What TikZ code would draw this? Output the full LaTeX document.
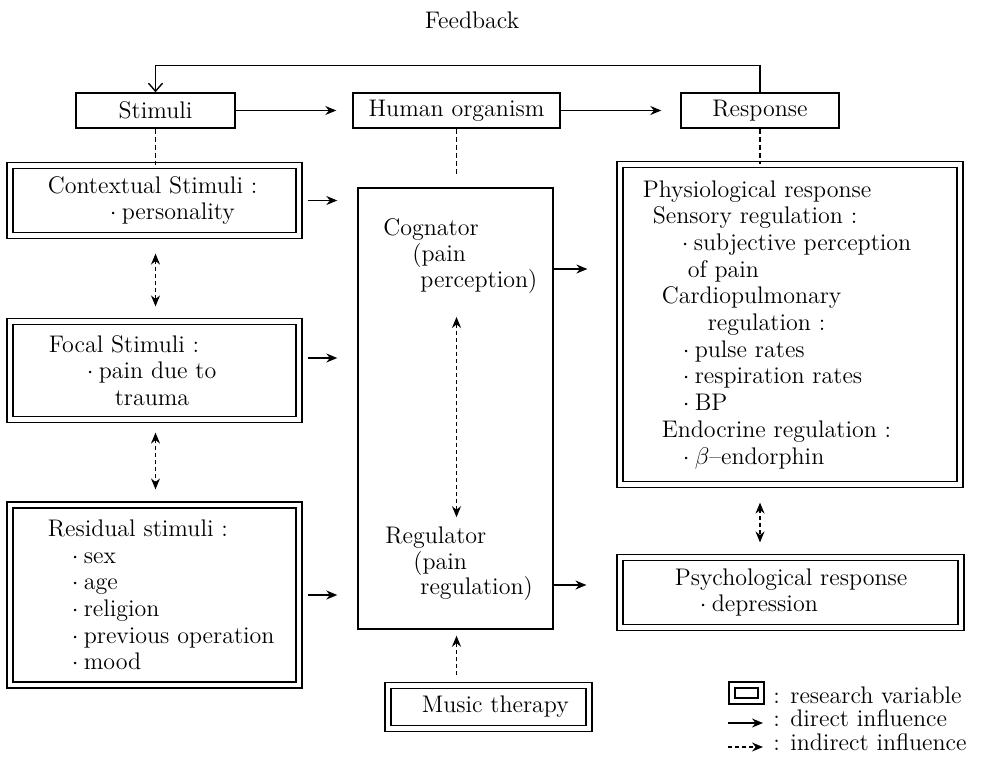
\documentclass[tikz,border=0pt]{standalone}
\usepackage{fontspec}
\usetikzlibrary{positioning,arrows.meta,calc}
\newcommand{\itm}{\makebox[6pt][l]{$\cdot$}}

\begin{document}
\begin{tikzpicture}[x=0.5pt,y=-0.5pt,
  >={Stealth[length=5.5pt,width=4.5pt]},
  every node/.style={font=\fontsize{12}{13.35}\selectfont},
  box/.style={draw,line width=0.7pt,minimum height=17.5pt,inner sep=0pt},
  varbox/.style={draw,line width=0.6pt,double,double distance=2.4pt,inner sep=0pt},
  txt/.style={inner sep=0pt,align=left},
  direct/.style={->,line width=0.7pt},
  indirect/.style={line width=0.7pt,dash pattern=on 2pt off 1.5pt},
  link/.style={line width=0.7pt,dash pattern=on 2.5pt off 1.5pt}]
  \useasboundingbox (0,0) rectangle (984,760);

  \node (fbtxt) at (472,20) {Feedback};
  \node[box,minimum width=79.5pt]  (stim) at (155.5,110.5) {Stimuli};
  \node[box,minimum width=103.5pt] (hum)  at (456.5,110.5) {Human organism};
  \node[box,minimum width=79pt]    (resp) at (760,110.5)   {Response};

  \node[varbox,minimum width=144.5pt,minimum height=35pt] (ctx) at (154.5,200.5) {};
  \node[varbox,minimum width=144.5pt,minimum height=49pt] (foc) at (154.5,370.5) {};
  \node[varbox,minimum width=144.5pt,minimum height=90pt] (res) at (154.5,595)   {};
  \node[draw,line width=0.7pt,minimum width=97.5pt,minimum height=220.5pt] (org) at (455.5,408.5) {};
  \node[varbox,minimum width=170pt,minimum height=160pt]  (phy) at (790,324.5)   {};
  \node[varbox,minimum width=170.5pt,minimum height=35pt] (psy) at (790.5,592.5) {};
  \node[varbox,minimum width=100.5pt,minimum height=21.5pt] (mus) at (488.5,707) {};

  \node[txt,right=19pt of ctx.west] (ctxt) {Contextual Stimuli :\\\hspace*{31pt}\itm personality};
  \node[txt,right=19.5pt of foc.west] (foct) {Focal Stimuli :\\\hspace*{19pt}\itm pain due to\\\hspace*{33pt}trauma};
  \node[txt,right=19pt of res.west] (rest) {Residual stimuli :\\\hspace*{12pt}\itm sex\\\hspace*{12pt}\itm age\\
    \hspace*{12pt}\itm religion\\\hspace*{12pt}\itm previous operation\\\hspace*{12pt}\itm mood};
  \node[txt,right=11.5pt of phy.west] (phyt) {Physiological response\\\hspace*{5pt}Sensory regulation :\\
    \hspace*{19.5pt}\itm subjective perception\\\hspace*{22.5pt}of pain\\\hspace*{9.5pt}Cardiopulmonary\\
    \hspace*{32.5pt}regulation :\\\hspace*{20pt}\itm pulse rates\\\hspace*{20pt}\itm respiration rates\\
    \hspace*{20pt}\itm BP\\\hspace*{9.5pt}Endocrine regulation :\\\hspace*{20pt}\itm $\beta$--endorphin};
  \node[txt,right=27.5pt of psy.west] (psyt) {Psychological response\\\hspace*{12.5pt}\itm depression};
  \node[txt,right=17pt of mus.west] (must) {Music therapy};
  \node[txt,anchor=west,font=\fontsize{12}{12.8}\selectfont] (cog) at (383,256)
    {Cognator\\\hspace*{14.5pt}(pain\\\hspace*{18.5pt}perception)};
  \node[txt,anchor=west,font=\fontsize{12}{12.8}\selectfont] (reg) at (385,564)
    {Regulator\\\hspace*{14pt}(pain\\\hspace*{17.5pt}regulation)};

  \draw[direct,shorten >=8pt] (stim) -- (hum);
  \draw[direct,shorten >=9.5pt] (hum) -- (resp);
  \draw[-{Straight Barb[length=4pt,width=7pt]},line width=0.7pt] (resp.north) -- ++(0,-27) -| (stim.north);

  \draw[link] (stim.south) -- (stim.south |- ctx.north);
  \draw[link,shorten >=5.5pt] (hum.south) -- (hum.south |- org.north);
  \draw[link] (resp.south) -- (resp.south |- phy.north);

  \draw[indirect,<->,shorten <=8.75pt,shorten >=7.25pt] (stim.south |- ctx.south) -- (stim.south |- foc.north);
  \draw[indirect,<->,shorten <=6.25pt,shorten >=7.5pt] (stim.south |- foc.south) -- (stim.south |- res.north);
  \draw[indirect,<->,shorten <=8.75pt,shorten >=7.25pt] (resp.south |- phy.south) -- (resp.south |- psy.north);
  \draw[indirect,<->,shorten <=11.75pt,shorten >=4.75pt] (hum.south |- cog.south) -- (hum.south |- reg.north);
  \draw[indirect,->,shorten <=5pt,shorten >=3pt] (hum.south |- mus.north) -- (hum.south |- org.south);

  \draw[direct,shorten <=4pt,shorten >=10pt] (ctx.east) -- (ctx.east -| org.west);
  \draw[direct,shorten <=4pt,shorten >=10pt] ($(foc.east)+(0,-12.5)$) -- ($(foc.east -| org.west)+(0,-12.5)$);
  \draw[direct,shorten <=4pt,shorten >=10pt] (res.east) -- (res.east -| org.west);
  \draw[direct,shorten >=16pt] ($(org.east |- cog.east)+(0,13)$) -- ($(phy.west |- cog.east)+(0,13)$);
  \draw[direct,shorten >=16.5pt] ($(org.east |- reg.east)+(0,21)$) -- ($(psy.west |- reg.east)+(0,21)$);

  \node[varbox,minimum width=14.5pt,minimum height=8pt] (lgbox) at (746.5,693) {};
  \node[txt,anchor=west] (lg1) at (773,695) {: research variable};
  \node[txt,anchor=west] (lg2) at (773,718) {: direct influence};
  \node[txt,anchor=west] (lg3) at (773,742) {: indirect influence};
  \coordinate (lgd1) at (728,723);
  \coordinate (lgd2) at (763,723);
  \coordinate (lgi1) at (728,747);
  \coordinate (lgi2) at (763,747);
  \draw[direct] (lgd1) -- (lgd2);
  \draw[indirect,->] (lgi1) -- (lgi2);
\end{tikzpicture}
\end{document}
